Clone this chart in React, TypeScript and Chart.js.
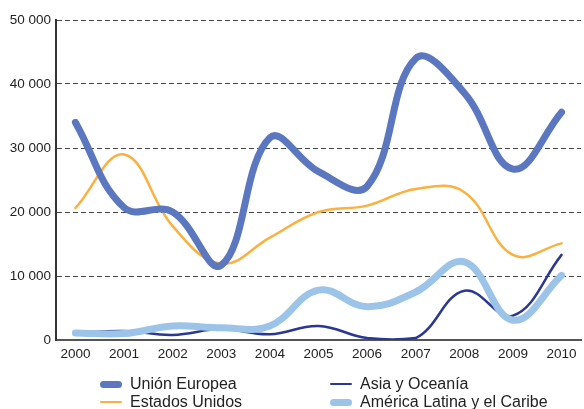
import React, { useEffect, useRef } from "react";
import { Chart, registerables } from "chart.js";

Chart.register(...registerables);

const years = [2000, 2001, 2002, 2003, 2004, 2005, 2006, 2007, 2008, 2009, 2010];
const unionEuropea = [34000, 20700, 20000, 11700, 31600, 26300, 24000, 44000, 38600, 26700, 35600];
const estadosUnidos = [20600, 29000, 17800, 11900, 16000, 20000, 21000, 23600, 23100, 13300, 15100];
const asiaOceania = [1100, 1400, 800, 1700, 900, 2200, 300, 300, 7700, 3800, 13300];
const americaLatina = [1100, 1000, 2200, 1900, 2200, 7800, 5200, 7500, 12200, 3100, 10100];
const yTicks = [0, 10000, 20000, 30000, 40000, 50000];

const FONT = "'Liberation Sans', Arial, sans-serif";

const series = [
  { label: "Unión Europea", data: unionEuropea, color: "#5b77bf", width: 7 },
  { label: "América Latina y el Caribe", data: americaLatina, color: "#9cc3e8", width: 7 },
  { label: "Asia y Oceanía", data: asiaOceania, color: "#2b3893", width: 2.5 },
  { label: "Estados Unidos", data: estadosUnidos, color: "#fbb03f", width: 2.5 },
];

const legendItems = [
  { label: "Unión Europea", color: "#5b77bf", width: 7, left: 100, top: 374 },
  { label: "Asia y Oceanía", color: "#2b3893", width: 2.5, left: 330, top: 374 },
  { label: "Estados Unidos", color: "#fbb03f", width: 2.5, left: 100, top: 392 },
  { label: "América Latina y el Caribe", color: "#9cc3e8", width: 7, left: 330, top: 392 },
];

const fmt = (v: number) => (v === 0 ? "0" : `${Math.round(v / 1000)} 000`);

export default function App() {
  const ref = useRef<HTMLCanvasElement | null>(null);
  useEffect(() => {
    if (!ref.current) return;
    const chart = new Chart(ref.current, {
      type: "line",
      data: {
        datasets: series.map((s) => ({
          label: s.label,
          data: s.data.map((v, i) => ({ x: years[i], y: v })),
          borderColor: s.color,
          backgroundColor: s.color,
          borderWidth: s.width,
          pointRadius: 0,
          tension: 0.4,
          borderCapStyle: "round",
          borderJoinStyle: "round",
          fill: false,
        })),
      },
      options: {
        animation: false,
        responsive: false,
        maintainAspectRatio: false,
        layout: { padding: { left: 0, top: 20, right: 3, bottom: 44 } },
        plugins: { legend: { display: false }, tooltip: { enabled: false } },
        scales: {
          x: {
            type: "linear",
            min: 1999.6,
            max: 2010.4,
            afterBuildTicks: (axis: any) => {
              axis.ticks = years.map((y) => ({ value: y }));
            },
            afterFit: (axis: any) => {
              axis.height = 25;
            },
            grid: { display: false, drawTicks: false },
            border: { display: true, color: "#555", width: 2 },
            ticks: {
              color: "#222",
              font: { family: FONT, size: 13.5 },
              padding: 6,
              maxRotation: 0,
              autoSkip: false,
              callback: (v: any) => String(v),
            },
          },
          y: {
            min: 0,
            max: 50000,
            afterBuildTicks: (axis: any) => {
              axis.ticks = yTicks.map((v) => ({ value: v }));
            },
            afterFit: (axis: any) => {
              axis.width = 56;
            },
            grid: {
              color: (ctx: any) => (ctx.tick && ctx.tick.value === 0 ? "rgba(0,0,0,0)" : "#444"),
              lineWidth: 1,
              drawTicks: false,
            },
            border: { display: true, color: "#333", width: 2, dash: [5, 3] },
            ticks: {
              color: "#222",
              font: { family: FONT, size: 13.5 },
              padding: 5,
              callback: (v: any) => fmt(Number(v)),
            },
          },
        },
      } as any,
    });
    return () => chart.destroy();
  }, []);

  return (
    <div style={{ position: "absolute", left: 0, top: 0, width: 584, height: 409, background: "#fff", fontFamily: FONT }}>
      <canvas ref={ref} width={584} height={409} style={{ width: 584, height: 409, display: "block" }} />
      {legendItems.map((it) => (
        <div key={it.label} style={{ position: "absolute", left: it.left, top: it.top, height: 20, display: "flex", alignItems: "center" }}>
          <div style={{ width: 22, height: it.width, borderRadius: it.width / 2, background: it.color }} />
          <span style={{ marginLeft: 8, fontSize: 16, color: "#222", whiteSpace: "nowrap" }}>{it.label}</span>
        </div>
      ))}
    </div>
  );
}
